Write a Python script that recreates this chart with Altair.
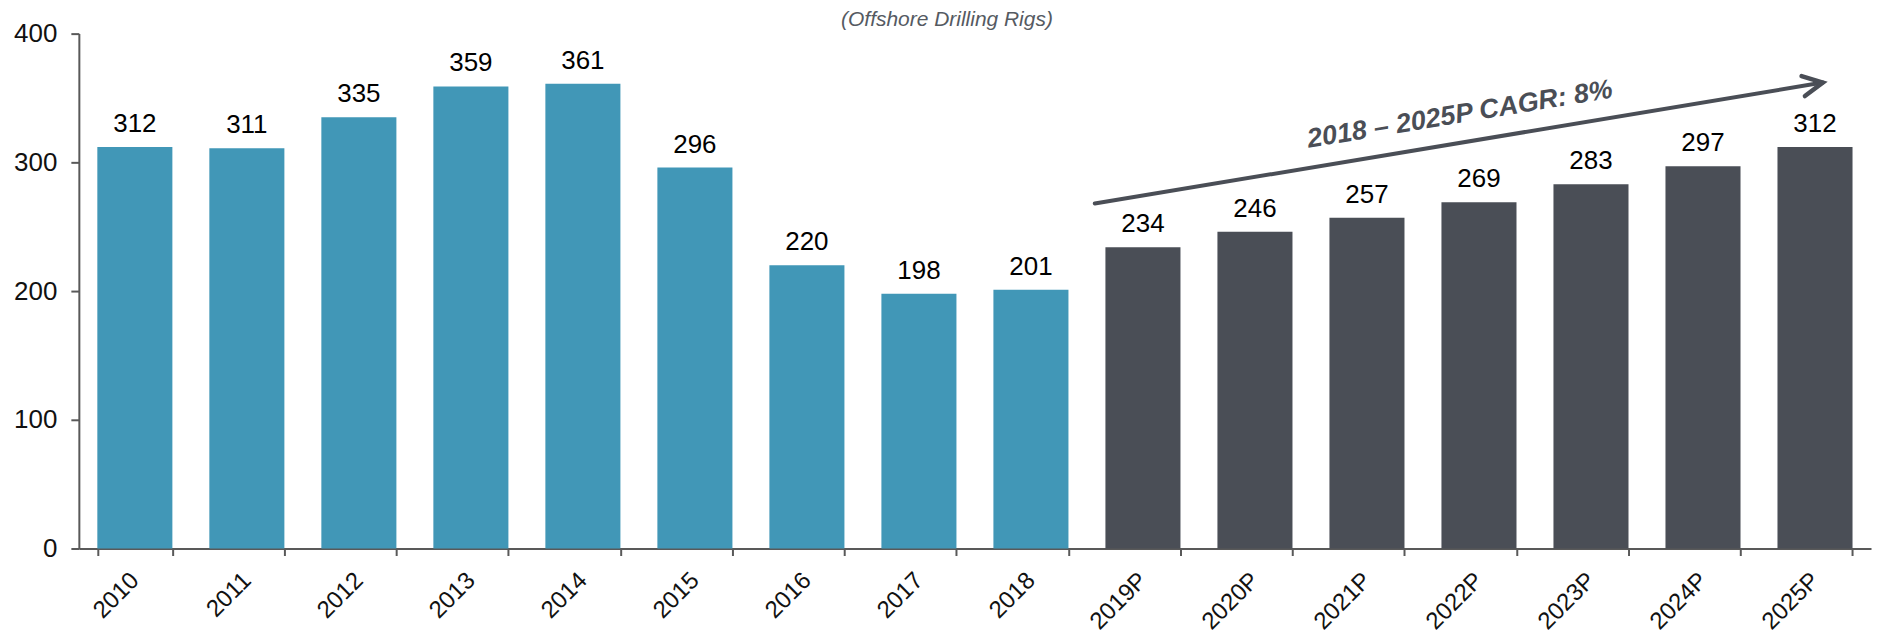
import altair as alt
import pandas as pd

# ---- data ----
years = ["2010", "2011", "2012", "2013", "2014", "2015", "2016", "2017", "2018",
         "2019P", "2020P", "2021P", "2022P", "2023P", "2024P", "2025P"]
rigs = [312, 311, 335, 359, 361, 296, 220, 198, 201,
        234, 246, 257, 269, 283, 297, 312]
period = ["Historical", "Historical", "Historical", "Historical", "Historical",
          "Historical", "Historical", "Historical", "Historical",
          "Projected", "Projected", "Projected", "Projected", "Projected",
          "Projected", "Projected"]

# annotation arrow (x in category-slot units, y in rig units)
arrow_x = [9.07, 15.57]
arrow_y = [268, 362]
head_x = [15.38, 15.57, 15.41]
head_y = [367, 362, 351.5]
head_order = [0, 1, 2]
cagr_x = [12.33]
cagr_y = [337]
cagr_text = ["2018 \u2013 2025P CAGR: 8%"]

FONT = "Liberation Sans"
TEAL = "#4197b7"
DARK = "#4a4e56"
AXIS = "#595959"

bars_df = pd.DataFrame({"year": years, "rigs": rigs, "period": period})
arrow_df = pd.DataFrame({"ax": arrow_x, "ay": arrow_y})
head_df = pd.DataFrame({"ax": head_x, "ay": head_y, "o": head_order})
cagr_df = pd.DataFrame({"ax": cagr_x, "ay": cagr_y, "t": cagr_text})

y_enc = alt.Y("rigs:Q", title=None,
              scale=alt.Scale(domain=[0, 400], nice=False),
              axis=alt.Axis(values=[0, 100, 200, 300, 400], grid=False,
                            labelPadding=14, labelFontSize=26))
x_enc = alt.X("year:N", sort=years, title=None,
              scale=alt.Scale(paddingInner=0.33, paddingOuter=0.165),
              axis=alt.Axis(labelAngle=-45, labelAlign="right",
                            labelBaseline="middle", labelPadding=21,
                            labelFontSize=24, tickBand="extent", tickSize=7))

bars = alt.Chart(bars_df).mark_bar().encode(
    x=x_enc,
    y=y_enc,
    color=alt.Color("period:N", legend=None,
                    scale=alt.Scale(domain=["Historical", "Projected"],
                                    range=[TEAL, DARK])),
)

labels = alt.Chart(bars_df).mark_text(
    font=FONT, fontSize=26, color="#000000", baseline="alphabetic", dy=-15
).encode(x=alt.X("year:N", sort=years), y=alt.Y("rigs:Q"), text="rigs:Q")

qx = alt.X("ax:Q", scale=alt.Scale(domain=[0, 16], nice=False, zero=False), axis=None)
qy = alt.Y("ay:Q", title=None)

shaft = alt.Chart(arrow_df).mark_line(
    color=DARK, strokeWidth=4, strokeCap="round"
).encode(x=qx, y=qy)

head = alt.Chart(head_df).mark_line(
    color=DARK, strokeWidth=4.5, strokeCap="round", strokeJoin="miter"
).encode(x=qx, y=qy, order="o:Q")

cagr = alt.Chart(cagr_df).mark_text(
    font=FONT, fontSize=27, fontWeight="bold", fontStyle="italic",
    color=DARK, angle=350.6, align="center", baseline="middle"
).encode(x=qx, y=qy, text="t:N")

bar_layer = alt.layer(bars, labels)
ann_layer = alt.layer(shaft, head, cagr)

chart = alt.layer(bar_layer, ann_layer).resolve_scale(
    x="independent"
).properties(
    width=1796, height=516,
    autosize=alt.AutoSizeParams(type="none"),
    padding={"left": 71, "top": 25, "right": 4, "bottom": 90},
    title=alt.TitleParams("(Offshore Drilling Rigs)", fontStyle="italic",
                          fontWeight="normal", fontSize=21, color="#555a62",
                          font=FONT, anchor="middle", dx=-28, offset=-9),
).configure_view(stroke=None).configure_axis(
    domainColor=AXIS, domainWidth=2, tickColor=AXIS, tickWidth=2, tickSize=8,
    labelFont=FONT, labelColor="#111111",
)

chart.save("out.html", embed_options={"renderer": "svg", "actions": False})
